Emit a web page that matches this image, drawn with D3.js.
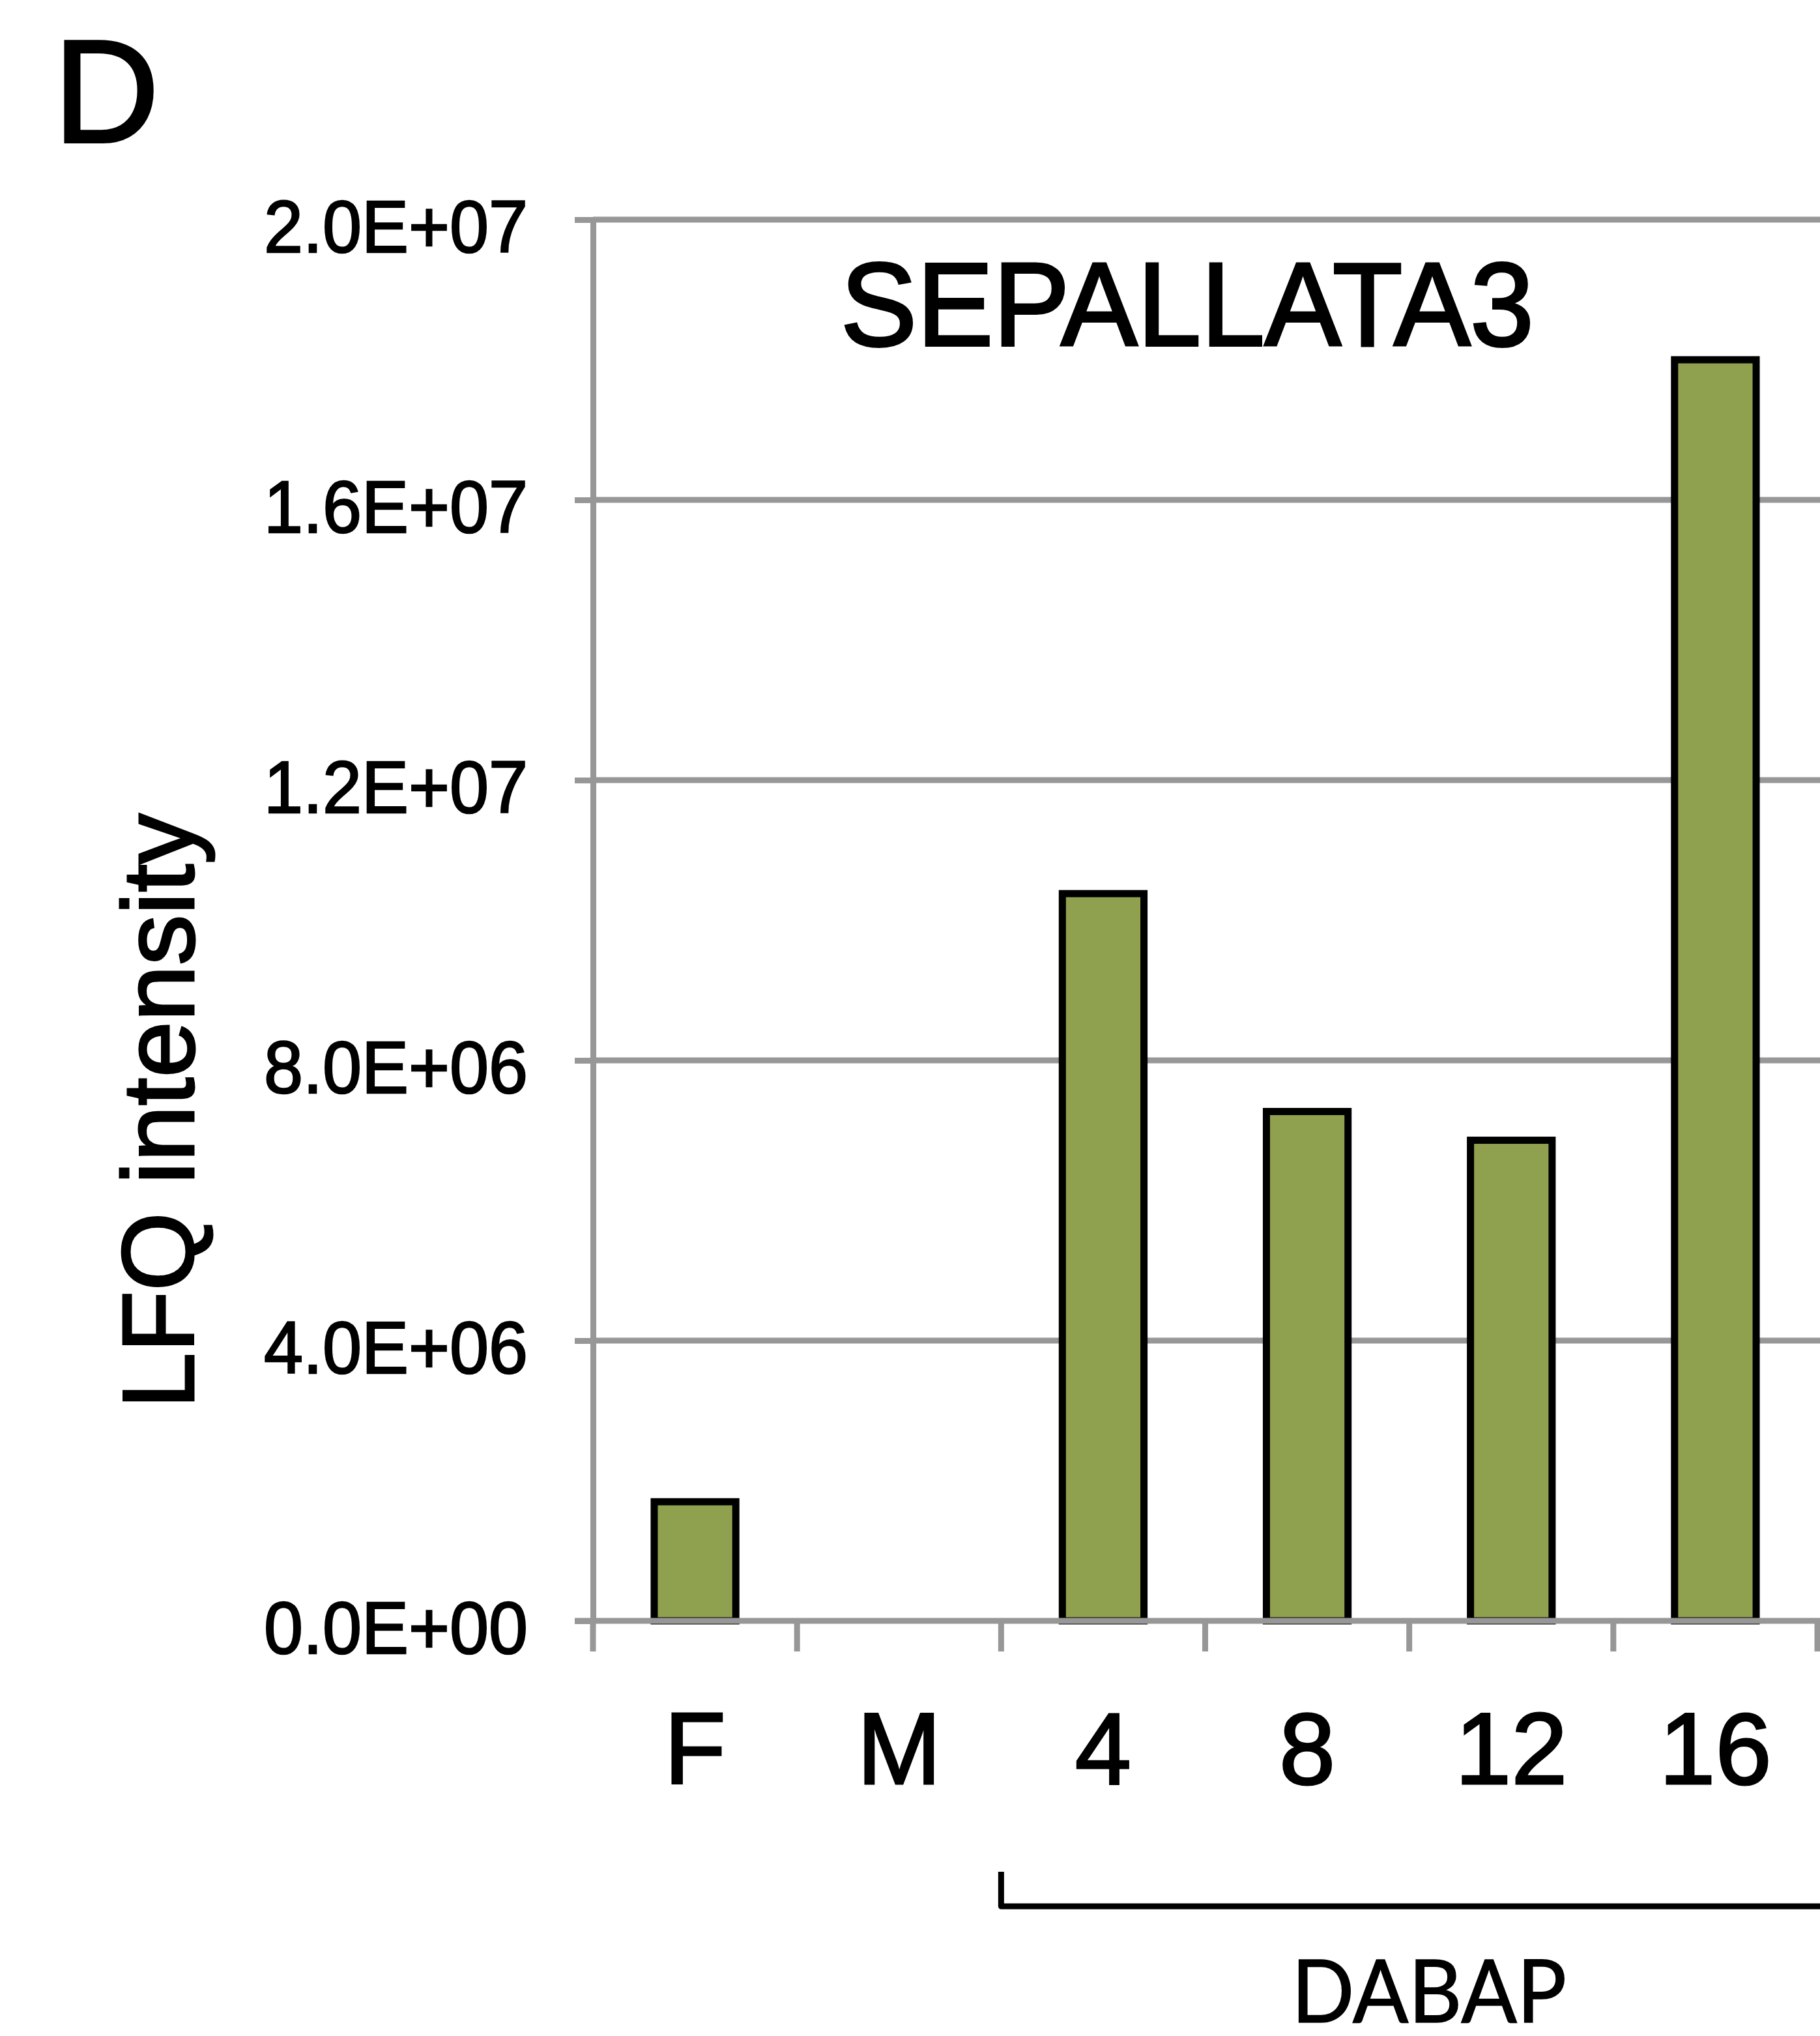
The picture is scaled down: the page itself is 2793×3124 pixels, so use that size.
<!DOCTYPE html>
<html>
<head>
<meta charset="utf-8">
<script src="https://cdn.jsdelivr.net/npm/d3@7/dist/d3.min.js"></script>
<style>
  html, body { margin: 0; padding: 0; background: #ffffff; }
  svg { display: block; }
  text { font-family: "Liberation Sans", Arial, sans-serif; fill: #000; stroke: #000; }
</style>
</head>
<body>
<div id="chart"></div>
<script>
// Sample groups and LFQ intensities for SEPALLATA3
const categories = ["F", "M", "4", "8", "12", "16"];
const values = [1.70e6, 0, 1.038e7, 7.27e6, 6.86e6, 1.80e7];

// Y axis ticks and their labels
const yTickValues = [0, 4e6, 8e6, 1.2e7, 1.6e7, 2e7];
const yTickLabels = ["0.0E+00", "4.0E+06", "8.0E+06", "1.2E+07", "1.6E+07", "2.0E+07"];

// Grouping bracket under the DABAP time points
const groupLabel = "DABAP";
const groupStart = "4";

(function draw() {
  const W = 2793, H = 3124;
  const plotLeft = 910, plotRight = 2789, plotTop = 337, plotBottom = 2487;
  const gray = "#979797";
  const barFill = "#8fa04f";

  const svg = d3.select("#chart").append("svg")
    .attr("width", W).attr("height", H);

  const x = d3.scaleBand()
    .domain(categories)
    .range([plotLeft, plotRight])
    .paddingInner(0.6)
    .paddingOuter(0.3);

  const y = d3.scaleLinear()
    .domain([0, 2e7])
    .range([plotBottom, plotTop]);

  const halfGap = (x.step() - x.bandwidth()) / 2;

  // Horizontal gridlines
  svg.append("g")
    .selectAll("line")
    .data(yTickValues.filter(d => d > 0))
    .join("line")
    .attr("x1", plotLeft).attr("x2", W)
    .attr("y1", d => y(d)).attr("y2", d => y(d))
    .attr("stroke", gray).attr("stroke-width", 9);

  // Y axis with tick labels
  const yAxis = svg.append("g")
    .attr("transform", `translate(${plotLeft},0)`)
    .call(d3.axisLeft(y)
      .tickValues(yTickValues)
      .tickFormat((d, i) => yTickLabels[i])
      .tickSize(28)
      .tickSizeOuter(0)
      .tickPadding(72));
  yAxis.select(".domain").attr("stroke", gray).attr("stroke-width", 9);
  yAxis.selectAll(".tick line").attr("stroke", gray).attr("stroke-width", 9);
  yAxis.selectAll(".tick text")
    .attr("dy", "0.43em")
    .attr("textLength", 405)
    .attr("lengthAdjust", "spacingAndGlyphs")
    .style("font-family", "'Liberation Sans', Arial, sans-serif")
    .style("font-size", "114px")
    .style("stroke-width", "2.5px")
    .attr("fill", "#000");

  // Bars
  svg.append("g")
    .selectAll("rect")
    .data(categories.map((c, i) => ({ c, v: values[i] })).filter(d => d.v > 0))
    .join("rect")
    .attr("x", d => x(d.c))
    .attr("width", x.bandwidth())
    .attr("y", d => y(d.v))
    .attr("height", d => y(0) - y(d.v))
    .attr("fill", barFill)
    .attr("stroke", "#000")
    .attr("stroke-width", 11);

  // X axis baseline and category boundary ticks
  svg.append("line")
    .attr("x1", plotLeft - 28).attr("x2", W)
    .attr("y1", y(0)).attr("y2", y(0))
    .attr("stroke", gray).attr("stroke-width", 9);

  const boundaries = categories.map(c => x(c) - halfGap)
    .concat([x(categories[categories.length - 1]) + x.bandwidth() + halfGap]);
  svg.append("g")
    .selectAll("line")
    .data(boundaries)
    .join("line")
    .attr("x1", d => d).attr("x2", d => d)
    .attr("y1", y(0)).attr("y2", y(0) + 47)
    .attr("stroke", gray).attr("stroke-width", 9);

  // Category labels
  const xAxis = svg.append("g")
    .attr("transform", `translate(0,${plotBottom})`)
    .call(d3.axisBottom(x).tickSize(0).tickPadding(140));
  xAxis.select(".domain").remove();
  xAxis.selectAll(".tick text")
    .style("font-family", "'Liberation Sans', Arial, sans-serif")
    .style("font-size", "155px")
    .style("stroke-width", "3px")
    .attr("fill", "#000");

  // Title inside the plot
  svg.append("text")
    .attr("x", 1822).attr("y", 530)
    .attr("text-anchor", "middle")
    .attr("textLength", 1064)
    .attr("lengthAdjust", "spacingAndGlyphs")
    .style("font-size", "182px")
    .style("stroke-width", "4px")
    .text("SEPALLATA3");

  // Y axis title
  svg.append("text")
    .attr("transform", "translate(297,1705) rotate(-90)")
    .attr("text-anchor", "middle")
    .style("font-size", "155px")
    .style("stroke-width", "3px")
    .text("LFQ intensity");

  // Panel letter
  svg.append("text")
    .attr("x", 82).attr("y", 218)
    .style("font-size", "225px")
    .style("stroke-width", "4px")
    .text("D");

  // Bracket grouping the DABAP samples
  const bx = x(groupStart) - halfGap;
  const bracket = d3.path();
  bracket.moveTo(bx, 2872);
  bracket.lineTo(bx, 2925);
  bracket.lineTo(W + 10, 2925);
  svg.append("path")
    .attr("d", bracket.toString())
    .attr("fill", "none")
    .attr("stroke", "#000")
    .attr("stroke-width", 9)
    .attr("stroke-linejoin", "round");

  svg.append("text")
    .attr("x", 2193).attr("y", 3103)
    .attr("text-anchor", "middle")
    .attr("textLength", 422)
    .attr("lengthAdjust", "spacingAndGlyphs")
    .style("font-family", "Lato, 'Liberation Sans', sans-serif")
    .style("font-size", "134px")
    .style("stroke-width", "1.5px")
    .text(groupLabel);
})();
</script>
</body>
</html>
